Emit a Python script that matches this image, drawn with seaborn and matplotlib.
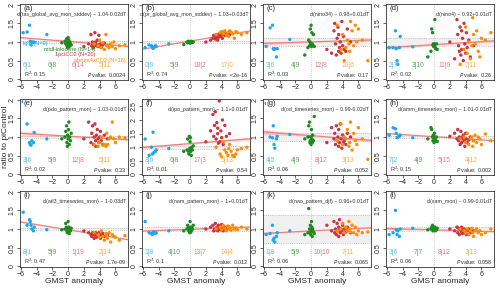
import numpy as np
import pandas as pd
import seaborn as sns
import matplotlib.pyplot as plt

sns.set_style("ticks")
plt.rcParams['font.family'] = ['Liberation Sans', 'DejaVu Sans']

# DATA

experiments = ["lgm", "midHolocene", "1pctCO2", "abrupt4xCO2"]
legend_labels = ["lgm (N=9)", "midHolocene (N=14)", "1pctCO2 (N=20)", "abrupt4xCO2 (N=16)"]

lgm_x = [-5.7, -5.2, -4.9, -4.8, -4.7, -4.6, -4.4, -4.3, -2.7]
mh_x = [-0.8, -0.4, -0.3, -0.2, -0.15, -0.1, -0.05, 0.0, 0.05, 0.1, 0.15, 0.2, 0.3, 0.4]
pct_x = [2.0, 2.6, 2.9, 3.0, 3.1, 3.2, 3.3, 3.4, 3.5, 3.5, 3.6, 3.7, 3.8, 3.9, 4.0, 4.1, 4.2, 4.4, 4.6, 5.0]
x4_x = [3.3, 3.8, 4.0, 4.2, 4.4, 4.6, 4.8, 4.9, 5.0, 5.2, 5.4, 5.6, 5.8, 6.0, 6.5, 7.2]

panels = ["a", "b", "c", "d", "e", "f", "g", "h", "i", "j", "k", "l"]

formulas = [
    "d(tas_global_avg_mon_stddev) ~ 1.04-0.02dT",
    "d(pr_global_avg_mon_stddev) ~ 1.03+0.03dT",
    "d(nino34) ~ 0.98+0.01dT",
    "d(nino4) ~ 0.92+0.01dT",
    "d(pdo_pattern_mon) ~ 1.03-0.01dT",
    "d(ipo_pattern_mon) ~ 1.1+0.01dT",
    "d(od_timeseries_mon) ~ 0.99-0.02dT",
    "d(amm_timeseries_mon) ~ 1.01-0.01dT",
    "d(atl3_timeseries_mon) ~ 1-0.03dT",
    "d(nam_pattern_mon) ~ 1+0.01dT",
    "d(nao_pattern_djf) ~ 0.96+0.01dT",
    "d(sam_mon) ~ 0.99-0.01dT",
]
r2_values = ["0.15", "0.74", "0.03", "0.02", "0.02", "0.01", "0.06", "0.15", "0.47", "0.1", "0.06", "0.06"]
p_values = ["0.0024", "<2e-16", "0.17", "0.26", "0.33", "0.54", "0.052", "0.002", "1.7e-09", "0.012", "0.065", "0.058"]
counts = [
    ["6|1", "6|8", "6|14", "5|11"],
    ["0|9", "5|9", "18|2", "17|0"],
    ["3|6", "4|9", "12|8", "10|6"],
    ["2|7", "3|10", "11|9", "7|11"],
    ["3|6", "5|9", "12|8", "5|11"],
    ["3|6", "6|8", "17|3", "5|13"],
    ["4|5", "4|9", "8|12", "3|13"],
    ["7|2", "4|9", "5|15", "4|12"],
    ["8|1", "5|9", "1|19", "2|14"],
    ["1|8", "4|10", "13|7", "14|4"],
    ["1|8", "5|9", "10|10", "7|11"],
    ["3|6", "7|7", "8|12", "3|13"],
]
band_width = [0.02, 0.02, 0.12, 0.12, 0.03, 0.05, 0.1, 0.03, 0.03, 0.05, 0.38, 0.05]
y_top = [2, 2, 2, 2, 2, 2.75, 2, 2, 2, 2, 2, 2]

lgm_y = [
    [1.25, 1.27, 1.45, 1.02, 0.92, 1.0, 1.0, 0.99, 1.2],
    [0.85, 0.92, 0.9, 0.87, 0.83, 0.85, 0.9, 0.88, 0.95],
    [0.88, 1.38, 1.45, 0.82, 0.8, 0.82, 0.6, 0.82, 1.07],
    [0.85, 0.85, 1.3, 0.82, 0.5, 0.4, 0.85, 1.15, 0.87],
    [1.95, 1.35, 0.85, 0.8, 0.78, 0.9, 0.85, 1.12, 0.95],
    [1.3, 0.7, 1.0, 0.75, 1.55, 0.8, 0.85, 0.9, 0.95],
    [1.9, 1.0, 0.98, 1.3, 0.8, 0.7, 0.95, 1.02, 1.07],
    [1.05, 1.25, 1.22, 1.1, 0.98, 1.0, 1.02, 1.05, 0.98],
    [1.45, 1.1, 1.25, 1.2, 1.1, 1.0, 0.95, 1.05, 0.98],
    [1.2, 0.9, 0.88, 0.85, 0.9, 0.92, 0.88, 0.9, 0.95],
    [0.85, 0.88, 1.1, 0.7, 0.75, 0.65, 0.8, 0.9, 0.95],
    [0.85, 0.9, 1.5, 0.98, 0.85, 0.95, 0.8, 1.0, 1.02],
]
mh_y = [
    [0.98, 1.02, 0.95, 1.08, 0.9, 1.0, 0.85, 1.12, 0.93, 1.05, 0.88, 1.0, 0.96, 0.92],
    [0.93, 1.0, 0.98, 1.02, 0.99, 1.0, 1.01, 0.97, 1.0, 0.98, 1.02, 1.0, 0.99, 1.0],
    [0.65, 0.85, 1.05, 0.9, 1.0, 1.35, 0.95, 1.45, 0.88, 1.25, 0.95, 0.92, 1.2, 0.88],
    [0.6, 0.75, 1.35, 1.25, 0.92, 0.95, 0.88, 0.9, 0.95, 1.6, 0.85, 0.82, 0.95, 0.8],
    [0.95, 1.0, 1.15, 1.3, 0.85, 0.75, 1.05, 0.95, 1.2, 1.4, 0.8, 1.0, 0.9, 1.1],
    [0.85, 0.9, 1.3, 0.85, 0.75, 1.4, 0.95, 1.2, 1.35, 0.85, 0.7, 1.0, 0.9, 1.05],
    [0.95, 1.0, 1.3, 1.4, 0.85, 0.9, 1.0, 0.8, 1.2, 0.95, 0.85, 1.05, 0.9, 1.55],
    [0.95, 1.25, 1.2, 1.0, 0.9, 1.05, 0.98, 0.85, 1.1, 1.0, 0.92, 0.9, 1.0, 0.88],
    [0.98, 1.0, 1.15, 1.05, 0.95, 0.9, 1.0, 1.2, 0.92, 1.05, 0.88, 1.0, 0.95, 1.02],
    [0.95, 1.0, 1.1, 1.05, 0.95, 1.0, 0.9, 1.2, 1.0, 0.92, 1.05, 0.97, 1.0, 1.1],
    [0.85, 0.9, 1.55, 1.0, 0.9, 1.1, 0.85, 0.95, 1.2, 1.05, 0.8, 1.0, 0.92, 0.88],
    [0.98, 1.0, 1.05, 1.1, 0.95, 1.0, 1.02, 0.97, 1.0, 1.05, 0.95, 1.0, 0.98, 1.02],
]
pct_y = [
    [0.88, 0.95, 1.2, 0.9, 1.0, 0.85, 0.92, 1.25, 0.95, 1.0, 0.9, 1.05, 0.88, 1.18, 0.92, 0.95, 0.85, 0.92, 0.97, 0.9],
    [1.0, 1.05, 1.1, 1.18, 1.12, 1.08, 1.15, 1.2, 1.1, 1.05, 1.13, 1.22, 1.17, 1.15, 1.2, 1.1, 1.25, 1.18, 1.22, 1.2],
    [0.8, 0.7, 1.3, 1.5, 0.95, 0.65, 1.1, 1.4, 0.75, 1.2, 0.85, 1.0, 0.7, 1.55, 0.9, 1.15, 0.8, 0.75, 1.35, 1.0],
    [1.0, 0.55, 1.6, 1.2, 0.9, 0.75, 1.4, 0.65, 1.3, 0.8, 1.1, 0.5, 1.5, 0.95, 0.7, 1.25, 0.85, 1.05, 0.6, 0.9],
    [0.95, 1.4, 0.85, 1.1, 1.3, 0.8, 1.0, 1.35, 0.9, 0.75, 1.05, 1.2, 0.95, 0.85, 1.0, 1.15, 0.9, 0.8, 1.05, 0.95],
    [1.2, 1.6, 2.2, 1.4, 1.8, 2.3, 1.3, 1.9, 1.5, 1.7, 1.15, 2.7, 1.2, 1.6, 1.35, 2.0, 1.1, 1.8, 1.4, 1.5],
    [0.85, 1.25, 0.95, 1.1, 0.8, 1.3, 0.9, 1.0, 0.75, 1.2, 0.85, 1.35, 0.95, 0.7, 1.05, 0.85, 0.9, 0.8, 1.1, 1.0],
    [1.02, 1.1, 0.95, 1.2, 0.9, 1.0, 0.8, 1.15, 0.95, 0.85, 1.0, 1.05, 0.9, 0.75, 1.1, 0.95, 0.85, 0.92, 1.0, 0.9],
    [0.95, 0.9, 0.85, 0.8, 0.9, 0.85, 0.75, 0.88, 0.82, 0.9, 0.78, 0.85, 0.8, 0.9, 0.85, 0.75, 0.82, 0.88, 0.8, 0.85],
    [1.0, 1.05, 1.1, 0.95, 1.0, 1.15, 0.98, 1.05, 1.02, 0.95, 1.1, 1.0, 1.05, 0.98, 1.12, 1.0, 0.95, 1.05, 1.0, 1.02],
    [1.1, 0.95, 1.2, 0.9, 1.0, 0.85, 1.15, 0.95, 0.8, 1.05, 1.25, 0.9, 1.0, 0.95, 1.1, 0.85, 1.0, 0.92, 1.05, 0.9],
    [1.0, 0.95, 1.05, 0.9, 1.02, 0.85, 0.98, 1.0, 0.92, 1.05, 0.88, 0.95, 1.0, 0.9, 0.98, 0.85, 0.95, 1.0, 0.9, 0.95],
]
x4_y = [
    [0.95, 0.9, 1.05, 0.85, 0.98, 0.8, 1.2, 0.9, 0.92, 0.85, 0.95, 0.88, 1.0, 0.82, 0.9, 0.92],
    [1.2, 1.25, 1.28, 1.22, 1.3, 1.18, 1.25, 1.15, 1.3, 1.27, 1.22, 1.1, 1.28, 1.25, 1.2, 1.25],
    [1.45, 0.8, 1.2, 0.5, 0.85, 1.05, 0.95, 0.75, 1.55, 1.3, 0.9, 1.45, 1.0, 1.35, 1.05, 0.5],
    [0.4, 0.8, 1.4, 0.7, 1.0, 0.55, 0.9, 1.65, 1.2, 0.95, 1.3, 0.75, 0.6, 1.1, 1.05, 1.25],
    [0.8, 0.75, 0.85, 1.0, 0.78, 0.8, 0.75, 1.1, 0.8, 0.95, 1.0, 1.4, 0.95, 0.85, 1.0, 0.98],
    [1.0, 0.75, 0.65, 1.2, 0.9, 0.8, 0.7, 0.95, 1.1, 0.85, 0.7, 0.65, 0.75, 0.9, 0.95, 1.0],
    [0.9, 1.35, 0.8, 1.0, 0.95, 1.2, 0.75, 0.85, 1.4, 0.65, 1.1, 0.9, 0.8, 1.25, 0.95, 0.4],
    [0.95, 1.0, 0.85, 1.1, 0.8, 0.95, 1.0, 0.75, 0.9, 1.05, 0.85, 1.0, 0.95, 0.8, 1.08, 0.9],
    [0.9, 0.85, 0.78, 0.95, 0.8, 0.7, 0.88, 0.82, 0.75, 0.9, 0.65, 0.85, 0.8, 0.78, 0.7, 0.82],
    [1.0, 1.05, 0.98, 1.1, 1.02, 0.95, 1.08, 1.0, 1.05, 0.97, 1.1, 1.0, 1.03, 0.98, 1.05, 1.0],
    [0.95, 1.0, 1.15, 0.9, 1.05, 0.95, 1.2, 1.0, 0.92, 1.1, 0.9, 1.05, 0.85, 0.95, 0.9, 0.92],
    [1.0, 0.95, 0.9, 1.0, 0.85, 0.95, 1.02, 0.9, 0.8, 0.95, 1.0, 0.9, 0.95, 0.85, 0.9, 1.0],
]

# STYLE

colors = ["#1ea7ea", "#1e8a1e", "#c8343f", "#ff8c00"]
light_colors = ["#5cc0f0", "#5aa85a", "#e07a84", "#ffaa4d"]
palette = dict(zip(experiments, colors))

W, H = 500, 289
lefts = [20, 142, 263, 386]
tops = [4, 99, 191]
pw, ph = 108, 76

fig = plt.figure(figsize=(W / 100, H / 100), dpi=100)

for i, p in enumerate(panels):
    r, c = divmod(i, 4)
    ax = fig.add_axes([lefts[c] / W, 1 - (tops[r] + ph) / H, pw / W, ph / H])

    df = pd.DataFrame({
        "dT": lgm_x + mh_x + pct_x + x4_x,
        "ratio": lgm_y[i] + mh_y[i] + pct_y[i] + x4_y[i],
        "exp": ["lgm"] * len(lgm_x) + ["midHolocene"] * len(mh_x)
               + ["1pctCO2"] * len(pct_x) + ["abrupt4xCO2"] * len(x4_x),
    })

    ax.set_xlim(-6.1, 7.6)
    ax.set_ylim(-0.02, y_top[i] + 0.02)

    # piControl variability band
    w = band_width[i]
    ax.axhspan(1 - w, 1 + w, color="#f0f0f0", lw=0, zorder=0)
    ax.axhline(1 + w, color="#b0b0b0", ls=":", lw=0.6, zorder=1)
    ax.axhline(1 - w, color="#b0b0b0", ls=":", lw=0.6, zorder=1)
    ax.axvline(0, color="#bbbbbb", ls=":", lw=0.6, zorder=1)

    sns.regplot(data=df, x="dT", y="ratio", scatter=False, ax=ax, truncate=False,
                color="#f08080", line_kws=dict(lw=0.9, zorder=2), ci=50)
    for coll in ax.collections:
        coll.set_alpha(0.3)

    sns.scatterplot(data=df, x="dT", y="ratio", hue="exp", palette=palette,
                    s=6, linewidth=0, ax=ax, legend=False, zorder=3)

    ax.set_xticks([-6, -4, -2, 0, 2, 4, 6])
    ax.set_xticklabels(["\u22126", "\u22124", "\u22122", "0", "2", "4", "6"])
    if y_top[i] > 2:
        ax.set_yticks([0, 0.5, 1, 1.5, 2, 2.5])
        ax.set_yticklabels(["0", "0.5", "1", "1.5", "2", "2.5"], rotation=90, va="center")
    else:
        ax.set_yticks([0, 0.5, 1, 1.5, 2])
        ax.set_yticklabels(["0", "0.5", "1", "1.5", "2"], rotation=90, va="center")
    ax.tick_params(labelsize=5, length=2, width=0.5, pad=1)
    for s in ax.spines.values():
        s.set_linewidth(0.6)
        s.set_color("#333333")

    ax.set_xlabel("GMST anomaly" if r == 2 else "", fontsize=6, labelpad=0)
    ax.set_ylabel("ratio to piControl" if i == 4 else "", fontsize=6, labelpad=0)

    ax.text(0.03, 0.985, f"({p})", transform=ax.transAxes, fontsize=5.5,
            ha="left", va="top", zorder=5,
            bbox=dict(facecolor="white", edgecolor="none", pad=0.3))
    ax.text(0.985, 0.86, formulas[i], transform=ax.transAxes, fontsize=3.8,
            ha="right", va="center", color="#333333")
    ax.text(0.04, 0.015, f"R$^2$: {r2_values[i]}", transform=ax.transAxes,
            fontsize=4.0, ha="left", va="bottom", color="#333333")
    ax.text(0.985, 0.015, f"$P$ value: {p_values[i]}", transform=ax.transAxes,
            fontsize=4.0, ha="right", va="bottom", color="#333333")
    for k, xpos in enumerate([0.07, 0.30, 0.54, 0.79]):
        ax.text(xpos, 0.185, counts[i][k], transform=ax.transAxes, fontsize=4.8,
                ha="center", va="center", color=light_colors[k])

    if i == 0:
        leg_pos = [(0.03, 0.48), (0.22, 0.40), (0.32, 0.33), (0.50, 0.26)]
        for k, (lx, ly) in enumerate(leg_pos):
            ax.text(lx, ly, legend_labels[k], transform=ax.transAxes, fontsize=4.0,
                    ha="left", va="center", color=colors[k])

plt.savefig("out.png", dpi=100)
plt.close()
